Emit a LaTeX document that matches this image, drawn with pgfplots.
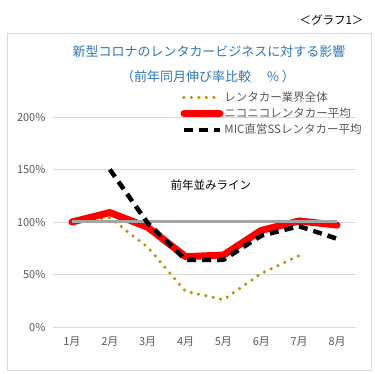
\documentclass[border=0pt]{standalone}
\usepackage{pgfplots}
\pgfplotsset{compat=1.18}
\usepackage{fontspec}
\setmainfont{Noto Sans CJK JP}
\definecolor{tgray}{RGB}{89,89,89}
\definecolor{gridc}{RGB}{217,217,217}
\definecolor{ttl}{RGB}{46,117,182}
\definecolor{gold}{RGB}{191,144,0}
\definecolor{lgray}{RGB}{165,165,165}
\begin{document}
\begin{tikzpicture}[x=1pt,y=1pt]
\useasboundingbox (0,0) rectangle (375,374);
\draw[gridc, line width=0.8pt] (7,4) rectangle (371,341);
\node[font=\fontsize{11.5}{11.5}\selectfont, anchor=east] at (367,354) {＜グラフ1＞};
\node[font=\fontsize{13}{13}\selectfont, text=ttl] at (209,322) {新型コロナのレンタカービジネスに対する影響};
\node[font=\fontsize{13}{13}\selectfont, text=ttl] at (208,297) {（前年同月伸び率比較　 \% ）};
\begin{axis}[
  at={(53pt,47pt)}, anchor=south west,
  scale only axis, width=303pt, height=210pt,
  xmin=0.5, xmax=8.5, ymin=0, ymax=200,
  axis line style={draw=none},
  tick style={draw=none},
  ymajorgrids, grid style={gridc, line width=0.8pt},
  ytick={0,50,100,150,200},
  yticklabels={0\%,50\%,100\%,150\%,200\%},
  xtick={1,2,3,4,5,6,7,8},
  xticklabels={1月,2月,3月,4月,5月,6月,7月,8月},
  ticklabel style={font=\fontsize{11}{11}\selectfont, text=tgray},
  yticklabel style={xshift=-4pt},
  xticklabel style={yshift=-6pt},
  /pgf/number format/assume math mode=true,
  clip=false,
  legend image code/.code={\draw[#1] (0pt,0pt) -- (36pt,0pt);},
  legend style={at={(0.42,1.125)}, anchor=north west, draw=none, fill=none,
    font=\fontsize{11.5}{11.5}\selectfont, text=tgray, row sep=3pt,
    inner sep=0pt, nodes={inner sep=1pt}},
  legend cell align=left,
]
\addplot[gold, line width=3.5pt, line cap=round, dash pattern=on 0pt off 7.5pt] coordinates {
 (1,100) (2,104) (3,76) (4,34) (5,26) (6,51) (7,68)};
\addlegendentry{レンタカー業界全体}
\addplot[red, line width=7pt, line join=round, line cap=round] coordinates {
 (1,100) (2,109) (3,95) (4,67) (5,68.5) (6,92) (7,101) (8,97)};
\addlegendentry{ニコニコレンタカー平均}
\addplot[lgray, line width=3pt, forget plot] coordinates {(1,100) (8,100)};
\addplot[black, line width=4.5pt, line join=round, dash pattern=on 9pt off 6pt] coordinates {
 (2,150) (3,99) (4,64) (5,64) (6,87) (7,96) (8,84)};
\addlegendentry{MIC直営SSレンタカー平均}
\node[font=\fontsize{11.5}{11.5}\selectfont, text=black] at (axis cs:4.67,135) {前年並みライン};
\end{axis}
\end{tikzpicture}
\end{document}
